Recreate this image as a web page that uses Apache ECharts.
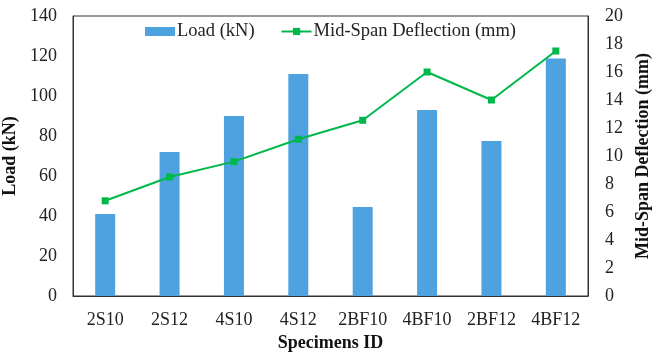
<!DOCTYPE html>
<html><head><meta charset="utf-8">
<script src="https://cdn.jsdelivr.net/npm/echarts@6/dist/echarts.min.js"></script>
<style>html,body{margin:0;padding:0;background:#fff}#c{width:661px;height:360px}</style>
</head><body><div id="c"></div>
<script>
var categories = ['2S10','2S12','4S10','4S12','2BF10','4BF10','2BF12','4BF12'];
var loadKN = [41, 72, 90, 111, 44.5, 93, 77.5, 118.7];
var deflectionMM = [6.8, 8.5, 9.6, 11.2, 12.55, 16, 14, 17.5];
var loadTicks = {min:0, max:140, interval:20};
var deflTicks = {min:0, max:20, interval:2};

var font = 'Liberation Serif';
var chart = echarts.init(document.getElementById('c'));
chart.setOption({
  animation:false,
  backgroundColor:'#fff',
  textStyle:{fontFamily:font},
  legend:{
    top:17, left:'center', itemGap:26, itemWidth:30, itemHeight:9,
    textStyle:{fontFamily:font, fontSize:18.5, color:'#222', padding:[0,0,0,-3]},
    data:[{name:'Load (kN)', icon:'rect'},{name:'Mid-Span Deflection (mm)'}]
  },
  grid:{left:73, right:73, top:16, bottom:64, show:true, borderColor:'#333', borderWidth:1,
        outerBoundsMode:'none', containLabel:false},
  xAxis:{
    type:'category', data:categories,
    name:'Specimens ID', nameLocation:'middle', nameGap:32,
    nameTextStyle:{fontFamily:font, fontSize:18, fontWeight:'bold', color:'#111'},
    axisLine:{lineStyle:{color:'#333'}}, axisTick:{show:false},
    axisLabel:{fontFamily:font, fontSize:18, color:'#222', margin:15}
  },
  yAxis:[{
    type:'value', min:loadTicks.min, max:loadTicks.max, interval:loadTicks.interval,
    name:'Load (kN)', nameLocation:'middle', nameGap:51,
    nameTextStyle:{fontFamily:font, fontSize:18, fontWeight:'bold', color:'#111'},
    axisLine:{show:true, lineStyle:{color:'#333'}}, axisTick:{show:false},
    splitLine:{show:false},
    axisLabel:{fontFamily:font, fontSize:18, color:'#222', margin:16}
  },{
    type:'value', min:deflTicks.min, max:deflTicks.max, interval:deflTicks.interval,
    name:'Mid-Span Deflection (mm)', nameLocation:'middle', nameGap:45,
    nameTextStyle:{fontFamily:font, fontSize:18, fontWeight:'bold', color:'#111'},
    axisLine:{show:true, lineStyle:{color:'#333'}}, axisTick:{show:false},
    splitLine:{show:false},
    axisLabel:{fontFamily:font, fontSize:18, color:'#222', margin:17}
  }],
  series:[{
    name:'Load (kN)', type:'bar', data:loadKN, barWidth:20,
    itemStyle:{color:'#4EA2DF'}
  },{
    name:'Mid-Span Deflection (mm)', type:'line', yAxisIndex:1, data:deflectionMM,
    symbol:'rect', symbolSize:7,
    lineStyle:{color:'#00B84A', width:2}, itemStyle:{color:'#00B84A'}
  }]
});
</script></body></html>
